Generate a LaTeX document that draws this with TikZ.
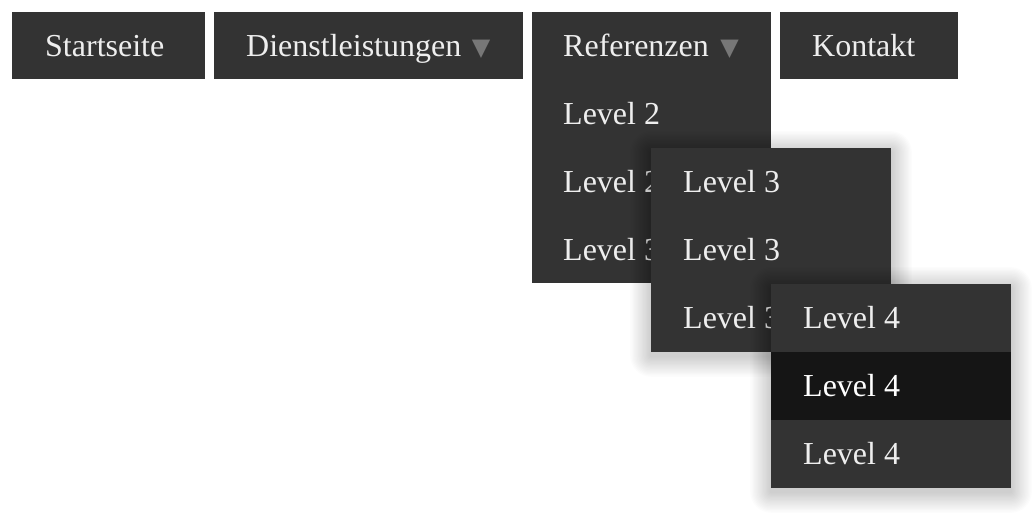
\documentclass[tikz,border=0pt]{standalone}
\usepackage{fontspec}
\setmainfont{Liberation Serif}
\newfontfamily\symfont{DejaVu Sans}
\definecolor{menubg}{HTML}{333333}
\definecolor{menuhover}{HTML}{151515}
\definecolor{menutext}{HTML}{EEEEEE}
\definecolor{arrowgray}{HTML}{777777}
\tikzset{
  box/.style={rectangle, fill=menubg, draw=none, inner sep=0pt, anchor=north west},
  hoverbox/.style={box, fill=menuhover},
  label/.style={anchor=base west, inner sep=0pt, text=menutext, font=\fontsize{32}{38}\selectfont},
  hoverlabel/.style={label, text=white},
  droparrow/.style={anchor=center, inner sep=0pt, text=arrowgray, font=\symfont\fontsize{24}{28}\selectfont},
}
\newcommand{\menushadow}[4]{%
  \foreach \i in {1,...,16}{%
    \fill[black, opacity=0.012, rounded corners={\i*1.3pt}]
      ({#1-\i*1.3},{#2-\i*1.3+4}) rectangle ({#3+\i*1.3},{#4+\i*1.3+4});
  }%
}
\begin{document}
\begin{tikzpicture}[x=1pt, y=-1pt]
\useasboundingbox (0,0) rectangle (1034,518);
\fill[white] (0,0) rectangle (1034,518);

% top bar
\node[box, minimum width=193pt, minimum height=67pt] (start) at (12,12) {};
\node[label] (startt) at (45,57) {Startseite};

\node[box, minimum width=309pt, minimum height=67pt] (dienst) at (214,12) {};
\node[label] (dienstt) at (246,57) {Dienstleistungen};
\node[droparrow] (diensta) at (481,49) {▼};

\node[box, minimum width=239pt, minimum height=67pt] (ref) at (532,12) {};
\node[label] (reft) at (563,57) {Referenzen};
\node[droparrow] (refa) at (729.5,49) {▼};

\node[box, minimum width=178pt, minimum height=67pt] (kontakt) at (780,12) {};
\node[label] (kontaktt) at (812,57) {Kontakt};

% level 2 menu
\node[box, minimum width=239pt, minimum height=204pt] (lvtwo) at (532,79) {};
\node[label] (lvtwoa) at (563,125) {Level 2};
\node[label] (lvtwob) at (563,193) {Level 2};
\node[label] (lvtwoc) at (563,261) {Level 3};

% level 3 menu
\menushadow{651}{148}{891}{352}
\node[box, minimum width=240pt, minimum height=204pt] (lvthree) at (651,148) {};
\node[label] (lvthreea) at (683,193) {Level 3};
\node[label] (lvthreeb) at (683,261) {Level 3};
\node[label] (lvthreec) at (683,329) {Level 3};

% level 4 menu
\menushadow{771}{284}{1011}{488}
\node[box, minimum width=240pt, minimum height=204pt] (lvfour) at (771,284) {};
\node[hoverbox, minimum width=240pt, minimum height=68pt] (lvfourhover) at (771,352) {};
\node[label] (lvfoura) at (803,329) {Level 4};
\node[hoverlabel] (lvfourb) at (803,397) {Level 4};
\node[label] (lvfourc) at (803,465) {Level 4};
\end{tikzpicture}
\end{document}
